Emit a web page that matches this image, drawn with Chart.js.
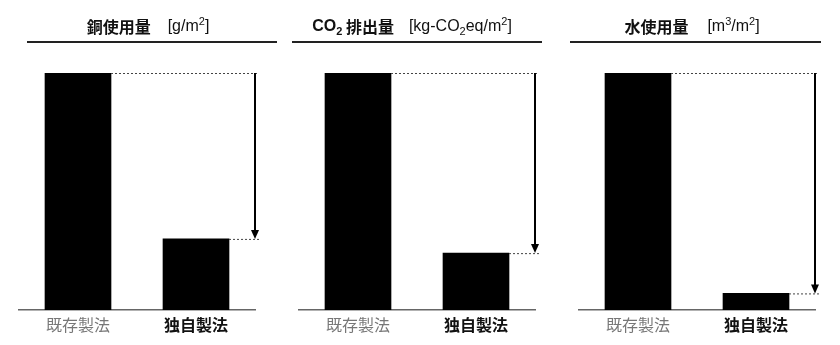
<!DOCTYPE html>
<html>
<head>
<meta charset="utf-8">
<script src="https://cdn.jsdelivr.net/npm/chart.js@4"></script>
<style>
  body { margin: 0; background: #fff; overflow: hidden; }
  .panel { position: absolute; top: 0; width: 280px; height: 345px; }
</style>
</head>
<body>
<div class="panel" style="left:0"><canvas id="c1" width="280" height="345"></canvas></div>
<div class="panel" style="left:280px"><canvas id="c2" width="280" height="345"></canvas></div>
<div class="panel" style="left:560px"><canvas id="c3" width="280" height="345"></canvas></div>
<script>
const categories = ['既存製法', '独自製法'];
const copperUse = [100, 30];
const co2Emission = [100, 24];
const waterUse = [100, 7];

const copperTitle = [
    { t: '銅使用量', bold: true },
    { t: '[g/m', gap: 17 }, { t: '2', pos: 'sup' }, { t: ']' }
];
const co2Title = [
    { t: 'CO', bold: true }, { t: '2', bold: true, pos: 'sub' }, { t: ' 排出量', bold: true },
    { t: '[kg-CO', gap: 15 }, { t: '2', pos: 'sub' }, { t: 'eq/m' }, { t: '2', pos: 'sup' }, { t: ']' }
];
const waterTitle = [
    { t: '水使用量', bold: true },
    { t: '[m', gap: 19 }, { t: '3', pos: 'sup' }, { t: '/m' }, { t: '2', pos: 'sup' }, { t: ']' }
];

const JP = '"Noto Sans CJK JP", "Liberation Sans", sans-serif';
const LAT = '"Liberation Sans", Arial, sans-serif';

function segFont(s) {
    const fam = /[\u3000-\u9fff]/.test(s.t) ? JP : LAT;
    const size = s.pos ? 11 : 16;
    return (s.bold ? 'bold ' : '') + size + 'px ' + fam;
}

const panelDecor = {
    id: 'panelDecor',
    afterDraw(chart, args, opts) {
        const ctx = chart.ctx;
        const area = chart.chartArea;
        ctx.save();

        // title
        ctx.textBaseline = 'middle';
        ctx.textAlign = 'left';
        ctx.fillStyle = '#111';
        let total = 0;
        opts.title.forEach(s => {
            ctx.font = segFont(s);
            total += (s.gap || 0) + ctx.measureText(s.t).width;
        });
        let x = opts.titleCenter - total / 2;
        opts.title.forEach(s => {
            ctx.font = segFont(s);
            x += s.gap || 0;
            let y = opts.titleY;
            if (s.pos === 'sup') y -= 5;
            if (s.pos === 'sub') y += 5;
            ctx.fillText(s.t, x, y);
            x += ctx.measureText(s.t).width;
        });

        // line under title
        ctx.strokeStyle = '#222';
        ctx.lineWidth = 2;
        ctx.beginPath();
        ctx.moveTo(opts.line[0], opts.lineY);
        ctx.lineTo(opts.line[1], opts.lineY);
        ctx.stroke();

        // dotted guides and arrow
        const bars = chart.getDatasetMeta(0).data;
        const ax = area.right;
        ctx.strokeStyle = '#444';
        ctx.lineWidth = 1;
        ctx.setLineDash([2, 2]);
        bars.forEach(b => {
            ctx.beginPath();
            ctx.moveTo(b.x + b.width / 2, b.y + 0.5);
            ctx.lineTo(ax + 4, b.y + 0.5);
            ctx.stroke();
        });
        ctx.setLineDash([]);
        const y0 = bars[0].y, y1 = bars[1].y;
        ctx.strokeStyle = '#000';
        ctx.lineWidth = 2;
        ctx.beginPath();
        ctx.moveTo(ax, y0);
        ctx.lineTo(ax, y1 - 7);
        ctx.stroke();
        ctx.fillStyle = '#000';
        ctx.beginPath();
        ctx.moveTo(ax - 4, y1 - 9);
        ctx.lineTo(ax + 4, y1 - 9);
        ctx.lineTo(ax, y1);
        ctx.closePath();
        ctx.fill();

        ctx.restore();
    }
};

function makePanel(id, values, title, titleCenter, line) {
    new Chart(document.getElementById(id), {
        type: 'bar',
        data: {
            labels: categories,
            datasets: [{ data: values, backgroundColor: '#000', barThickness: 66 }]
        },
        options: {
            responsive: false,
            animation: false,
            layout: { padding: { top: 73, left: 19, right: 25, bottom: 0 } },
            plugins: {
                legend: { display: false },
                tooltip: { enabled: false },
                panelDecor: { title, titleCenter, titleY: 27, line, lineY: 42 }
            },
            scales: {
                x: {
                    grid: { display: false, drawTicks: false },
                    border: { display: true, color: '#666', width: 1.5 },
                    ticks: {
                        padding: 5,
                        color: c => c.index === 1 ? '#111' : '#777',
                        font: c => ({ family: JP, size: 16, weight: c.index === 1 ? 'bold' : 'normal' })
                    },
                    afterFit: s => { s.height = 35; }
                },
                y: { display: false, min: 0, max: 100 }
            }
        },
        plugins: [panelDecor]
    });
}

makePanel('c1', copperUse, copperTitle, 148, [27, 277]);
makePanel('c2', co2Emission, co2Title, 132, [12, 262]);
makePanel('c3', waterUse, waterTitle, 132, [10, 261]);
</script>
</body>
</html>
